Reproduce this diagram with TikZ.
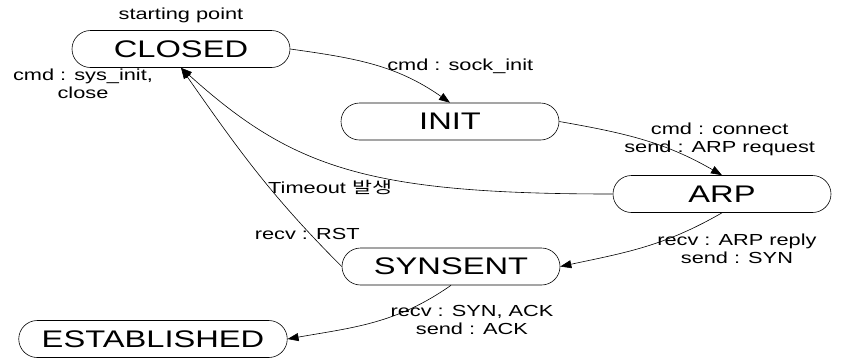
\documentclass[tikz,border=0pt]{standalone}
\usepackage{fontspec}
\setmainfont[FakeStretch=1.36]{Liberation Sans}
\newfontfamily\kofont[FakeStretch=1.36]{Noto Sans CJK KR}
\usetikzlibrary{arrows.meta,positioning}

\begin{document}
\begin{tikzpicture}[x=1pt, y=1pt, node distance=72.5pt, line width=0.6pt]
        \tikzstyle{state} = [rectangle, draw, rounded corners=18.5pt,
            minimum width=218pt, minimum height=37pt, inner xsep=23pt,
            font=\fontsize{24}{28}\selectfont]
        \tikzstyle{lbl} = [font=\fontsize{16}{18}\selectfont, align=center, inner sep=1pt]
        \tikzstyle{line} = [draw, -{Triangle[length=11pt, width=8pt]}]

        \useasboundingbox (0,0) rectangle (842,-360);

        \node [state, label={[lbl, label distance=6pt]above:{starting point}},
            label={[lbl, anchor=north, xshift=-98pt]south:{cmd : sys\_init,\\close}}]
            (closed) at (181,-49) {CLOSED};
        \node [state, below of=closed, xshift=269pt] (init) {INIT};
        \node [state, below of=init, xshift=272pt] (arp) {ARP};
        \node [state, below of=arp, xshift=-271pt] (synsent) {SYNSENT};
        \node [state, below of=synsent, xshift=-298pt] (established) {ESTABLISHED};

        \path [line] (closed.east) to[out=-8, in=145]
            node[lbl, pos=0.6, xshift=71pt, yshift=4pt] {cmd : sock\_init} (init.north);
        \path [line] (init.east) to[out=-10, in=150]
            node[lbl, pos=0.6, xshift=61pt, yshift=6pt] {cmd : connect\\send : ARP request} (arp.north);
        \path [line] (arp.west) to[out=180, in=-42, out looseness=1.4, in looseness=0.85]
            node[lbl, pos=0.5, xshift=-16pt, yshift=-19pt] {Timeout {\kofont 발생}} (closed.south);
        \path [line] (synsent.west) to[out=135, in=-55]
            node[lbl, pos=0.15, xshift=-5pt, yshift=2pt] {recv : RST} (closed.south);
        \path [line] (arp.south) to[out=-150, in=12]
            node[lbl, pos=0.3, xshift=63pt, yshift=-12pt] {recv : ARP reply\\send : SYN} (synsent.east);
        \path [line] (synsent.south) to[out=-145, in=10]
            node[lbl, pos=0.3, xshift=68pt, yshift=-8pt] {recv : SYN, ACK\\send : ACK} (established.east);
      \end{tikzpicture}
\end{document}
